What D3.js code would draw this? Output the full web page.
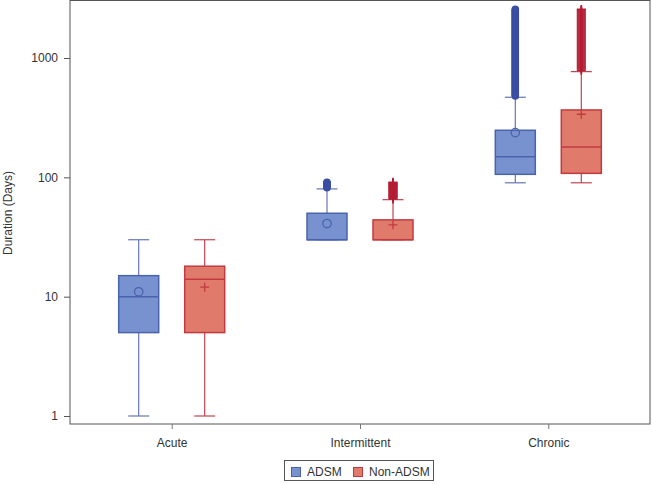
<!DOCTYPE html>
<html><head><meta charset="utf-8">
<script src="https://cdn.jsdelivr.net/npm/d3@7"></script>
<style>body{margin:0;background:#fff}svg{display:block;font-family:"Liberation Sans",Arial,sans-serif}</style>
</head><body><svg id="c" width="652" height="484"></svg>
<script>
const categories = ["Acute", "Intermittent", "Chronic"];
const groups = ["ADSM", "Non-ADSM"];
// five-number summaries + mean per category
const adsmMin  = [1, 30, 90];
const adsmQ1   = [5, 30, 106];
const adsmMed  = [10, 30, 149];
const adsmQ3   = [15, 50, 248];
const adsmMax  = [30, 80, 469];
const adsmMean = [11, 41, 237];
const nonMin  = [1, 30, 90];
const nonQ1   = [5, 30, 108];
const nonMed  = [14, 30, 180];
const nonQ3   = [18, 44, 367];
const nonMax  = [30, 65, 769];
const nonMean = [12, 40, 338];
const adsmOutliers = [
  [],
  [82, 83, 84, 85, 86, 87, 88, 89, 90, 91],
  [480, 490, 499, 509, 519, 529, 539, 550, 560, 571, 582, 594, 605, 617, 629, 641, 654, 666, 679, 693,
   706, 720, 734, 748, 763, 778, 793, 808, 824, 840, 857, 873, 890, 908, 925, 944, 962, 981, 1000, 1019,
   1039, 1060, 1080, 1101, 1123, 1145, 1167, 1190, 1213, 1237, 1261, 1285, 1310, 1336, 1362, 1389, 1416,
   1443, 1471, 1500, 1529, 1559, 1590, 1621, 1652, 1685, 1717, 1751, 1785, 1820, 1855, 1892, 1929, 1966,
   2005, 2044, 2083, 2124, 2166, 2208, 2251, 2295, 2340, 2385, 2432, 2479, 2528, 2555]
];
const nonOutliers = [
  [],
  [66, 67, 68, 69, 70, 71, 72, 73, 74, 75, 76, 77, 78, 79, 80, 81, 82, 83, 84, 85, 86, 87, 88, 89, 90, 91],
  [790, 808, 824, 840, 857, 873, 890, 908, 925, 944, 962, 981, 1000, 1019, 1039, 1060, 1080, 1101, 1123,
   1145, 1167, 1190, 1213, 1237, 1261, 1285, 1310, 1336, 1362, 1389, 1416, 1443, 1471, 1500, 1529, 1559,
   1590, 1621, 1652, 1685, 1717, 1751, 1785, 1820, 1855, 1892, 1929, 1966, 2005, 2044, 2083, 2124, 2166,
   2208, 2251, 2295, 2340, 2385, 2432, 2479, 2528, 2555]
];
const yTicks = [1, 10, 100, 1000];

const svg = d3.select("#c");
const L = 70, R = 650, T = 0, B = 424;
const x = d3.scalePoint().domain(categories).range([L, R]).padding(0.54);
const off = d3.scalePoint().domain(groups).range([-33, 33]);
const y = d3.scaleLog().domain([0.857, 3063]).range([B, T]);

const styles = {
  "ADSM":     {fill: "#7892cf", stroke: "#4a63ad", whisk: "#6675b3", out: "#3a4ea3", marker: "circle"},
  "Non-ADSM": {fill: "#e07b6b", stroke: "#c23a40", whisk: "#c04550", out: "#b31c34", marker: "plus"}
};

const data = [];
categories.forEach((c, i) => {
  data.push({cat: c, grp: "ADSM", min: adsmMin[i], q1: adsmQ1[i], med: adsmMed[i], q3: adsmQ3[i], max: adsmMax[i], mean: adsmMean[i], out: adsmOutliers[i]});
  data.push({cat: c, grp: "Non-ADSM", min: nonMin[i], q1: nonQ1[i], med: nonMed[i], q3: nonQ3[i], max: nonMax[i], mean: nonMean[i], out: nonOutliers[i]});
});

const bw = 40, cw = 21;
const g = svg.append("g");
data.forEach(d => {
  const s = styles[d.grp];
  const cx = x(d.cat) + off(d.grp);
  // whiskers
  g.append("line").attr("x1", cx).attr("x2", cx).attr("y1", y(d.q3)).attr("y2", y(d.max)).attr("stroke", s.whisk).attr("stroke-width", 1.2);
  g.append("line").attr("x1", cx).attr("x2", cx).attr("y1", y(d.q1)).attr("y2", y(d.min)).attr("stroke", s.whisk).attr("stroke-width", 1.2);
  [d.min, d.max].forEach(v => g.append("line").attr("x1", cx - cw/2).attr("x2", cx + cw/2).attr("y1", y(v)).attr("y2", y(v)).attr("stroke", s.whisk).attr("stroke-width", 1.2));
  // box
  g.append("rect").attr("x", cx - bw/2).attr("width", bw).attr("y", y(d.q3)).attr("height", y(d.q1) - y(d.q3))
    .attr("fill", s.fill).attr("stroke", s.stroke).attr("stroke-width", 1.5);
  g.append("line").attr("x1", cx - bw/2).attr("x2", cx + bw/2).attr("y1", y(d.med)).attr("y2", y(d.med)).attr("stroke", s.stroke).attr("stroke-width", 1.5);
  // mean
  if (s.marker === "circle") {
    g.append("circle").attr("cx", cx).attr("cy", y(d.mean)).attr("r", 4.2).attr("fill", "none").attr("stroke", s.stroke).attr("stroke-width", 1.3);
  } else {
    g.append("path").attr("d", `M${cx-4.5},${y(d.mean)}H${cx+4.5}M${cx},${y(d.mean)-4.5}V${y(d.mean)+4.5}`).attr("stroke", s.stroke).attr("stroke-width", 1.3);
  }
  // outliers
  d.out.forEach(v => {
    if (s.marker === "circle") {
      g.append("circle").attr("cx", cx).attr("cy", y(v)).attr("r", 3).attr("fill", "none").attr("stroke", s.out).attr("stroke-width", 1.6);
    } else {
      g.append("path").attr("d", `M${cx-4.5},${y(v)}H${cx+4.5}M${cx},${y(v)-4.5}V${y(v)+4.5}`).attr("stroke", s.out).attr("stroke-width", 1.6);
    }
  });
});

// frame
svg.append("rect").attr("x", L).attr("y", T + 0.5).attr("width", R - L).attr("height", B - T - 0.5)
  .attr("fill", "none").attr("stroke", "#555").attr("stroke-width", 1);

const FONT = "Liberation Sans, Arial, sans-serif";
// y axis
const ya = svg.append("g").attr("transform", `translate(${L},0)`)
  .call(d3.axisLeft(y).tickValues(yTicks).tickFormat(d3.format("d")).tickSize(6).tickSizeOuter(0));
ya.select(".domain").remove();
ya.selectAll(".tick line").attr("stroke", "#555");
ya.selectAll(".tick text").attr("font-size", 12).attr("fill", "#333").attr("x", -12).attr("font-family", FONT);

// x axis
const xa = svg.append("g").attr("transform", `translate(0,${B})`)
  .call(d3.axisBottom(x).tickSize(5).tickSizeOuter(0));
xa.select(".domain").remove();
xa.selectAll(".tick line").attr("stroke", "#777");
xa.selectAll(".tick text").attr("font-size", 12).attr("fill", "#333").attr("y", 14).attr("font-family", FONT);

// y label
svg.append("text").attr("transform", `translate(12,${(T + B) / 2 + 1}) rotate(-90)`).attr("text-anchor", "middle")
  .attr("font-size", 12).attr("fill", "#333").text("Duration (Days)");

// legend
const lg = svg.append("g");
lg.append("rect").attr("x", 284.5).attr("y", 460.5).attr("width", 149).attr("height", 20).attr("fill", "#fff").attr("stroke", "#555");
const legX = [291, 353];
groups.forEach((k, i) => {
  lg.append("rect").attr("x", legX[i] + 0.5).attr("y", 467.5).attr("width", 9).attr("height", 9)
    .attr("fill", styles[k].fill).attr("stroke", styles[k].stroke).attr("stroke-width", 1);
  lg.append("text").attr("x", legX[i] + 16).attr("y", 476).attr("font-size", 12).attr("fill", "#333").text(k);
});
</script></body></html>
